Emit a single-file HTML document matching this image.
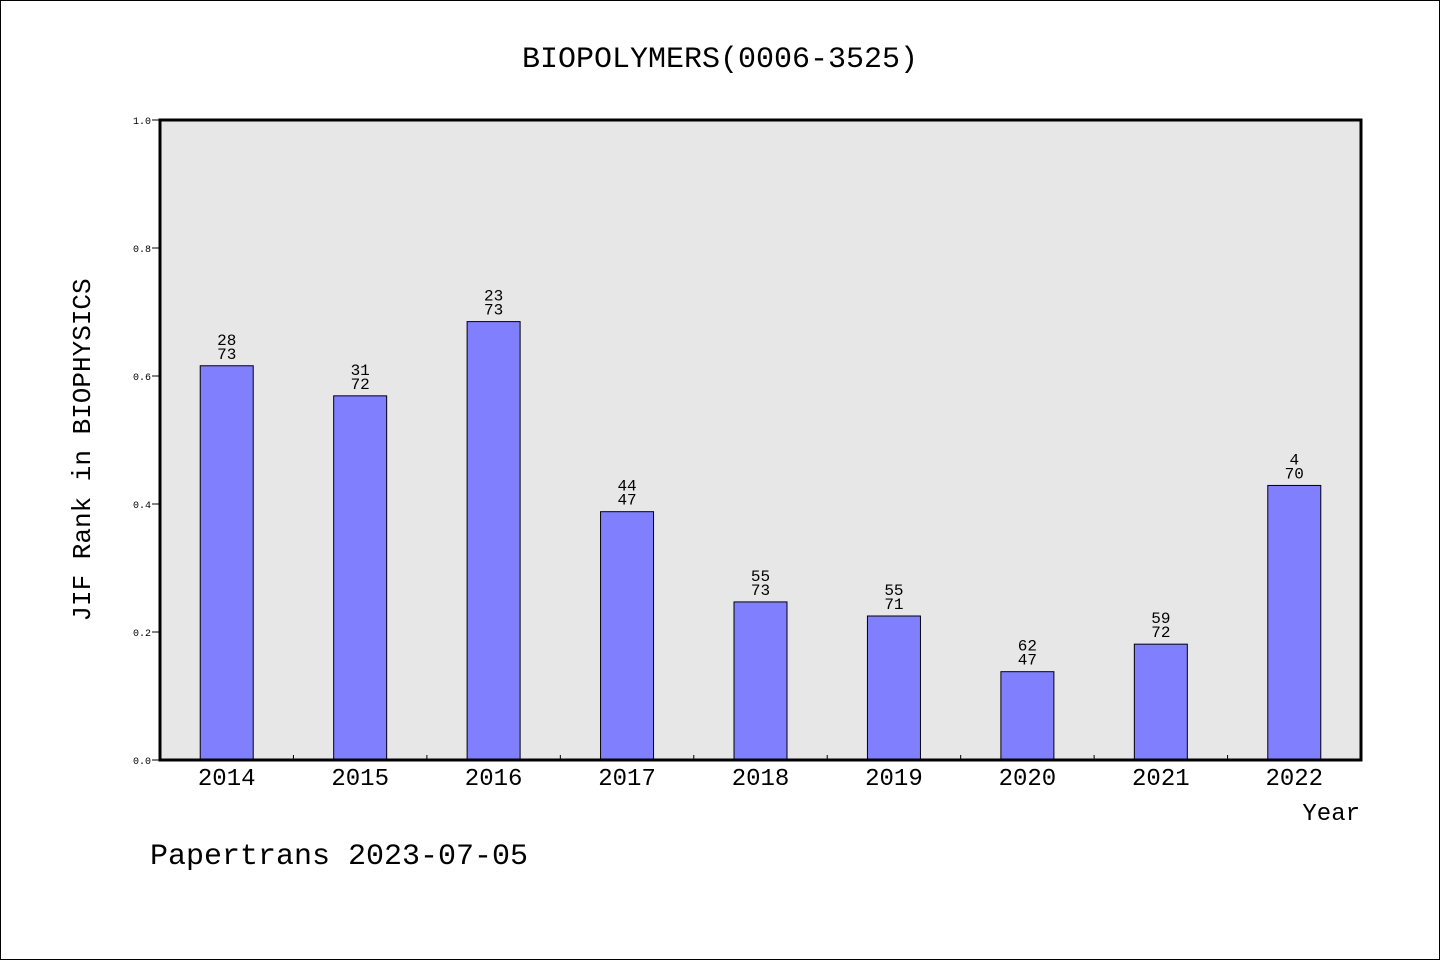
<!DOCTYPE html>
<html><head><meta charset="utf-8"><style>
html,body{margin:0;padding:0;background:#fff}
svg text{font-family:"WenQuanYi Zen Hei","Liberation Mono",monospace;fill:#000}
</style></head><body>
<svg id="chart" width="1440" height="960" xmlns="http://www.w3.org/2000/svg">
<rect x="0.5" y="0.5" width="1439" height="959" fill="#fff" stroke="#000"/>
<text x="720" y="67" font-size="30" text-anchor="middle">BIOPOLYMERS(0006-3525)</text>
<rect x="160" y="120" width="1201" height="640" fill="#e7e7e7"/>
<g id="yticks"></g><g id="bars"></g><g id="xticks"></g>
<rect x="160" y="120" width="1201" height="640" fill="none" stroke="#000" stroke-width="3"/>
<text transform="translate(90,450) rotate(-90)" font-size="26" text-anchor="middle">JIF Rank in BIOPHYSICS</text>
<text x="1360" y="820" font-size="24" text-anchor="end">Year</text>
<text x="150" y="864" font-size="30">Papertrans 2023-07-05</text>
</svg>
<script>
const years=["2014","2015","2016","2017","2018","2019","2020","2021","2022"];
const values=[0.616,0.569,0.685,0.388,0.247,0.225,0.138,0.181,0.429];
const ranks=["28","31","23","44","55","55","62","59","4"];
const totals=["73","72","73","47","73","71","47","72","70"];
const yTicks=["0.0","0.2","0.4","0.6","0.8","1.0"];
const NS="http://www.w3.org/2000/svg";
const X0=160,X1=1361,Y0=760,Y1=120;
const bw=(X1-X0)/years.length;
const xs=i=>X0+bw*(i+0.5);
const ys=v=>Y0-(Y0-Y1)*v;
function mk(t,a,p){const e=document.createElementNS(NS,t);for(const k in a)e.setAttribute(k,a[k]);p.appendChild(e);return e;}
const gy=document.getElementById('yticks');
yTicks.forEach(t=>{const y=ys(parseFloat(t));
const l=mk('line',{x1:152,x2:160,y1:y,y2:y,stroke:'#000'},gy);


const tx=mk('text',{x:151,y:y+4,'font-size':10,'text-anchor':'end'},gy);tx.textContent=t;

});
const gb=document.getElementById('bars');
years.forEach((yr,i)=>{const cx=xs(i),top=ys(values[i]);
const r=mk('rect',{x:cx-26.5,y:top,width:53,height:Y0-top,fill:'#8080ff',stroke:'#000','stroke-width':1},gb);


const a=mk('text',{x:cx,y:top-21,'font-size':16,'text-anchor':'middle'},gb);a.textContent=ranks[i];


const b=mk('text',{x:cx,y:top-7,'font-size':16,'text-anchor':'middle'},gb);b.textContent=totals[i];


const xl=mk('text',{x:cx,y:785,'font-size':24,'text-anchor':'middle'},gb);xl.textContent=yr;

});
const gx=document.getElementById('xticks');
for(let i=1;i<years.length;i++){const x=X0+bw*i;
const l=mk('line',{x1:x,x2:x,y1:Y0,y2:Y0-5,stroke:'#000'},gx);

}
</script>
</body></html>
